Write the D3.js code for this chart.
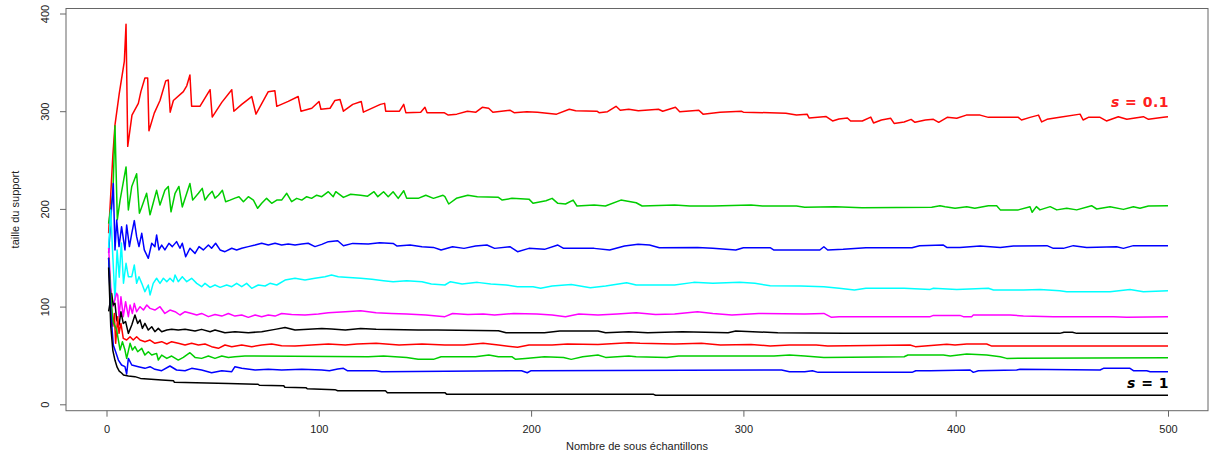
<!DOCTYPE html>
<html>
<head>
<meta charset="utf-8">
<script src="https://cdn.jsdelivr.net/npm/d3@7"></script>
<style>
  body { margin: 0; background: #fff; }
  svg { display: block; }
  .axis text { font-family: "Liberation Sans", Arial, sans-serif; font-size: 11px; fill: #222; }
  .axis line, .axis path { stroke: #666; }
  .titre { font-family: "Liberation Sans", Arial, sans-serif; font-size: 11px; fill: #222; }
  .etiquette { font-family: "DejaVu Sans", Verdana, sans-serif; font-size: 14px; font-weight: bold; letter-spacing: 0.5px; }
</style>
</head>
<body>
<div id="chart"></div>
<script>

// valeurs : [nombre de sous echantillons, taille du support]
var courbe1 = [[1,175],[2,215],[3,255],[4,286],[6,318],[8.4,351],[9.2,389],[10,264],[12,296],[15,308],[16.2,320],[18.1,334],[19.4,334],[20,280],[22.5,298],[25.2,311],[27.9,331],[29.1,332],[30,299],[31.5,311],[36.2,320],[37.8,326],[39.3,337],[40.1,305],[44,305],[48.8,322],[49.8,294],[54.3,309],[59,322],[60,300],[63.7,307],[68.4,315],[70.4,297],[76.2,320],[79.3,321],[80.2,305],[85.6,310],[90.3,315],[91.6,300],[96.7,303],[100.1,310],[101,302],[105.3,303],[107.6,311],[110,312],[111.6,300],[116,307],[120,310],[121,299],[129,307],[131,308],[131.5,300],[138,300],[140,307],[141,298.5],[148,299],[150,304],[151,298.5],[159,298.5],[161,296],[165,297],[170,300],[174,299],[177,304],[180,303],[182,299],[190,301],[192,298.5],[198,299.5],[203,299],[212,297],[218,302],[221,300.5],[231,300],[232,298.5],[236,299.5],[240,305],[242,301],[246,302],[250.5,300.5],[260,302],[262,300],[268,304],[270,299.5],[279,301],[281,297],[289,299],[299,300],[300,299],[320,298],[325,296],[330,297],[331,293],[339,294.5],[342,290],[345,292],[349,293],[350.5,290],[356,290],[360,294],[361.3,288],[365,291],[369.4,292.7],[371,287.5],[375.7,289],[379,291.6],[380.8,288.6],[385.7,291],[389.5,291.7],[392,288.6],[396,293.7],[400.5,292.7],[405,296],[411.5,296],[415.4,293.7],[429.5,293.7],[431,291],[435,293.7],[439,296],[440.5,289],[443,291.7],[449,293.7],[458.6,297],[460,291],[462.5,293.7],[468,293.7],[471,290],[476.6,294.4],[480.6,291.7],[488.4,294.4],[490.8,291.7],[497.8,293.7],[500,294.4]];

var courbe2 = [[1,185],[2,200],[3,215],[4,285],[5.1,189],[6.4,209],[9.2,243],[10.3,199],[11.9,223],[14.2,236],[15.5,195.5],[16.6,202],[18.9,216],[20.5,194],[22,206],[23.6,219],[25.2,204],[27.5,219],[29.1,223],[30.4,197],[32.3,216],[34.1,223],[35.7,202],[37.8,216],[39.3,226],[40.6,209],[43.3,216],[45.1,221],[46.4,209],[48,214],[49.8,218],[51.1,211],[52.7,214],[54.6,219],[56.1,207.4],[58.2,209],[60.5,211],[62.4,212.5],[64.5,207.4],[66.8,212.5],[69.2,209],[71.2,200.6],[73.1,205.7],[75.4,210.8],[77.8,205.7],[80.2,209],[82.5,209],[84.9,216],[87.2,207.4],[89.6,210.8],[92,209],[94.3,212.5],[96.6,210.8],[99,214],[101.4,212.5],[104.5,217.6],[106.8,212.5],[108,217.6],[111.6,211.8],[115,215],[119.7,214],[123,213],[126,217.6],[127.8,212.5],[130.5,217.6],[132.7,212.5],[135,217.6],[137.4,210.8],[140,218.6],[141.4,210.8],[146.8,210.8],[150.4,214],[154,210.8],[158.5,214],[159.4,212.5],[161.2,205],[164.8,210.8],[170.2,214],[174.7,212.5],[184.6,211.8],[186.4,209],[191,210.8],[199,210],[200.9,205.7],[207,208.4],[209.9,210.8],[212.6,205.7],[216.2,205],[219.8,209],[221.6,203],[229.7,204],[235,203],[242.3,209],[249.5,206.3],[252.3,203],[267.6,204],[274.8,203],[285.6,203],[303.6,204],[309,203],[325,203],[328.9,201.6],[343.3,202.2],[355.9,201.2],[388.7,201.6],[392.6,203.3],[395,202.3],[399.7,200.6],[405.2,202.3],[409,200.6],[415.4,203.3],[419.3,203.3],[421,199],[429.5,199],[435,202.3],[436,196.5],[438,202.3],[439.7,199],[444.5,202.3],[447.6,199],[452.3,200.6],[457,199],[464,203.3],[466.4,199.9],[472.7,202.3],[479,199.5],[483.7,202.3],[486.8,200.6],[490.8,203],[500,203.3]];

var courbe3 = [[1,155],[2.1,192],[3.2,226],[4,158],[4.8,188.6],[5.9,161.4],[7.1,181.8],[8.7,158],[9.5,183.5],[10.8,161.4],[11.9,175],[13.1,188],[14.2,171.6],[15.3,161.4],[16.6,175],[17.8,158],[19.7,149.4],[21.3,164.8],[22.8,161.4],[23.6,173.3],[24.7,158],[26,163],[27.5,158],[29.4,164.8],[31,161.4],[33,166.5],[34.6,159.7],[35.7,164.8],[37.3,151],[39.3,159.7],[41.7,154.5],[43.6,161.4],[45.6,158],[48,163],[49.5,159.7],[51.4,164.8],[53.5,158],[55.8,156.2],[59,159.7],[61.3,158],[63.7,159.7],[66.8,161.4],[70,163],[73.1,164.8],[76.2,163],[79.4,164.8],[82.5,163],[85.6,164],[88.8,163],[92,164],[95,164.8],[98.2,161.4],[101.4,163.7],[104.5,166.5],[108.9,167.4],[111.6,162.3],[116,164.7],[123.3,164],[128.7,165.4],[135,164.7],[136.9,162],[143,163],[148.6,161.3],[154,160.6],[157.6,157.9],[163,161.3],[168.4,159.6],[173.8,162],[179.2,163],[182.8,159.6],[190,161.3],[193.6,156.2],[199,159.6],[206.3,158.6],[212.6,163],[215.3,159.6],[229.7,159.6],[237,157.9],[244,162],[250.4,163.7],[255.8,163],[260.4,160.3],[278.4,160.6],[285.6,159.6],[296.4,157.9],[300,160.3],[312.6,160.3],[314.4,157.9],[336,157.9],[337.9,161.3],[339.7,157.9],[347,158.6],[357.7,160.3],[379.4,160.3],[383,162.3],[394.2,163],[395.8,160.6],[402,160.6],[411.5,162],[421,160.6],[427.2,162],[443,162.4],[446,159.6],[450.7,159.6],[455.4,162.4],[461.7,160.6],[475.8,161.3],[479,159.6],[483.7,162.4],[500,162.4]];

var courbe4 = [[1,160],[2,199],[3,150],[4,107],[5,158],[6,130],[7,165],[8,124],[9.2,144.3],[10.3,130.6],[11.9,130.6],[13.1,142.6],[14.2,123.8],[15.3,130.6],[16.6,123.8],[18.1,115.3],[19.7,122.1],[20.5,111.9],[22,123.8],[23.6,129],[25.2,123.8],[26.8,129],[28.4,125.5],[29.9,129],[31.5,125.5],[32.3,132.3],[33.8,125.5],[35.7,130.6],[37.8,125.5],[40.1,129],[42.5,123.8],[44.8,120.4],[46.4,123.8],[48.8,119.7],[51.1,122.1],[53.5,119.7],[56.6,122.1],[59,120.4],[61.3,123.8],[63.7,120.4],[66,123.8],[68.4,118.7],[71.5,122.1],[74.7,121.1],[77,123.8],[80.2,122.1],[84.1,127.2],[88.8,129],[93.5,127.2],[98.2,129],[102.9,130.6],[106,132.3],[109.2,130.6],[112.5,130],[119.7,128.9],[125,127.9],[130.5,126.5],[135,125.5],[141.4,126.5],[148.6,125.5],[153,123.1],[159.4,122.1],[162,125.5],[167.5,123.1],[174.7,124.8],[181,123.1],[188.2,122.1],[193.6,120.4],[200.9,120.4],[204.5,118.7],[209.9,121],[218.9,122.7],[227.9,119.3],[235.1,121],[245,124.5],[249.5,122.1],[267.6,122.1],[276.6,124.8],[285.6,123.8],[298.2,124.8],[305.4,123.8],[312.6,121.4],[327,121],[337.9,120.4],[345.1,118.7],[352.3,117],[357.7,118.7],[375.7,118.7],[388,117.6],[389.5,118.7],[400.5,117.6],[415.4,118.7],[417.8,117],[431.9,117],[439.7,117.6],[449,116.3],[452.3,115.3],[472.7,115.3],[482.1,117.6],[488.4,115.3],[500,116.3]];

var courbe5 = [[1,160],[2,120],[3,100],[4.8,113.6],[5.3,111.8],[5.9,89.7],[6.8,110.1],[7.9,89.7],[9,105],[10.3,89.7],[11.1,101.6],[12.2,93],[13.1,103.3],[14.2,94.8],[15.8,99.9],[17.4,96.5],[19,101.6],[20.5,98.2],[22.8,96.5],[25.2,99.9],[27.5,93],[29.9,96.5],[32.3,94.8],[34.6,91.4],[37,94.8],[40.1,93],[42.5,91.4],[44.8,93],[48,89.7],[51.1,92],[54.3,90.3],[57.4,93],[60.5,90.3],[63.7,91.4],[66.8,89],[70,91.4],[73.1,89.7],[76.2,91.4],[79.4,90.3],[82.5,93],[87.2,92],[93.5,91.4],[99.8,92.4],[104.5,93.8],[112.5,94.8],[119.7,95.8],[127,93.7],[134.2,93],[141.4,92.4],[150.4,91.4],[159.4,89.7],[163,93],[170.2,92],[177.4,92.4],[182.8,91.4],[191.8,93],[202.7,92.4],[209.9,91.4],[216.2,89.7],[222.5,92.4],[231.5,91.4],[240.5,92.4],[249.5,93.7],[258.6,92],[267.6,92.4],[278.4,94.8],[285.6,93],[294.6,91.4],[307.2,93],[328.9,92.4],[337.9,93],[341.5,89],[345.1,89.7],[388,89.7],[389.5,91],[402,91],[403.6,89.7],[407.5,89.7],[408.3,91.4],[425.6,91.4],[431.9,90.4],[446,89.7],[474.3,89.7],[480.6,89],[500,89.7]];

var courbe6 = [[1,95],[2.4,113.5],[3.2,101.6],[4,103.3],[4.8,86.3],[5.9,81.1],[6.8,94.8],[7.9,82.8],[9,84.6],[10.3,72.6],[11.9,81.1],[13.4,91.4],[14.7,82.8],[15.8,86.3],[16.9,77.7],[18.1,82.8],[19.7,76],[21.3,79.4],[22.8,74.3],[24.4,77.7],[26,74.3],[28.4,76],[30.7,76.7],[33.8,76],[37,76.7],[41.7,75],[44.8,76.7],[48.8,74.3],[51.1,76],[55.8,73.3],[60.5,74.3],[66.8,73.3],[73.1,74.3],[79.4,76.7],[84.1,78.7],[88.8,76],[95,76.7],[101.4,77.7],[106,77],[112.5,76],[119.7,77.7],[127,76.7],[146.8,76],[155.8,76],[184.6,75.3],[188.2,73.3],[206.3,73.3],[213.5,75],[231.5,75],[235.1,73.3],[246,74.3],[254.9,73.3],[271.2,74.3],[292.8,73.3],[296.4,75],[316.2,73.3],[347,72.6],[449,72.6],[451,73.8],[455,73.8],[457,72.6],[500,72.6]];

var courbe7 = [[1,150],[2,110],[3,80],[3.7,93],[4.3,62.4],[5.3,89.7],[5.9,72.6],[6.8,82.8],[7.9,67.5],[9.5,65.8],[11.1,69.2],[12.6,65.8],[14.2,69.2],[15.8,65.8],[18.1,64.1],[20.5,65.8],[22.8,62.4],[26,64.1],[28.4,61.7],[30.7,64.1],[33.8,62.4],[37,60.7],[40.1,62.4],[43.3,60.7],[46.4,61.7],[49.5,59],[52.7,57.3],[55.8,60.7],[59,59],[63.7,60.7],[68.4,59],[73.1,60.7],[77.8,61.7],[82.5,60],[88.8,59.6],[96.6,60.7],[104.5,61.7],[112.5,60.7],[118,61.7],[127,62.4],[137.8,60.7],[148.6,61.7],[159.4,60.7],[168.4,60.7],[177.4,62.4],[184.6,60.7],[193.6,58.3],[199,60.7],[209.9,60.7],[217.1,61.7],[231.5,61.3],[245.9,63],[251.3,62.4],[267.6,61.7],[280.2,62.4],[289.2,60.7],[303.6,61.3],[312.6,59.6],[321.7,60.7],[334.3,60.7],[339.7,59.6],[378.5,60.7],[381,59],[395.8,61.4],[399.7,60.7],[405.2,61.7],[414.6,61.7],[417,59.6],[500,59.6]];

var courbe8 = [[1,150],[2,110],[3,85],[4.8,76],[5.6,65.8],[6.4,55.5],[7.5,64.1],[8.7,55.5],[9.5,47],[11.1,62.4],[12.2,55.5],[13.4,59],[14.7,53.8],[16.6,57.3],[18.1,50.4],[19.7,53.8],[21.3,50.4],[23.6,52.1],[24.4,45.3],[26,50.4],[28.4,47],[30.7,49.4],[33.8,45.3],[36.2,48],[39.3,52.8],[41.7,48],[44.8,47],[48,49.4],[51.1,47],[54.3,49.4],[57.4,48],[60.5,48.7],[65.2,49.4],[123.3,48.7],[130.5,49.4],[141.4,48],[146.8,46],[154,46],[157.6,48.7],[173.8,48.7],[180.1,50.4],[184.6,48.7],[190.9,48.7],[192.7,46],[197.3,47],[206.3,48.7],[215.3,48],[218.9,46],[224.3,48.7],[231.5,50.4],[235.1,48],[246,49.4],[249.5,48.7],[264,48],[269.4,49.4],[314.4,49.4],[321.7,50.4],[328.9,49.4],[337.9,48],[375.7,48.7],[377.5,50.4],[394.2,50.4],[397.4,49.4],[405.2,51.5],[414.6,50.4],[421,48.7],[424,47],[500,47.7]];

var courbe9 = [[1,150],[2,95],[3.2,60.7],[4.3,53.8],[5.6,45.3],[7.1,40.2],[8.7,38.5],[9.5,31],[10.3,47],[11.9,40.2],[15,38.5],[18.1,36.8],[20.5,38.5],[22.8,35.8],[26,34.4],[29.9,39.2],[33,35.1],[37,34.4],[40.1,36.8],[44.8,35.1],[49.5,32.3],[54.3,34.4],[59,33.4],[60.5,38.5],[63.7,36.8],[70,35.1],[76.2,35.8],[82.5,35.1],[92,35.8],[101.4,35.1],[105,34.4],[108.9,36.1],[111.6,36.8],[113.4,34.4],[127,34.4],[129.6,33.4],[195.5,34.4],[198.2,32.3],[200,34.4],[318,35.1],[321.7,33.4],[328.9,33.4],[332.5,34.4],[335.2,32.7],[379.4,32.7],[381.2,34.4],[388,34.4],[406.8,35.1],[408.3,32.7],[410.7,34.4],[428.7,35.1],[430.3,35.8],[468,35.1],[469.6,36.8],[482.1,36.8],[483.7,34.4],[490,34.4],[491.6,33.4],[500,33.4]];

var courbe10 = [[1,140],[2,80],[3,55],[4,45],[5,38],[6,34],[7.1,32],[8,30],[10.3,29],[13.4,28.3],[16,26.5],[26,24.8],[31.6,24],[32,22.5],[57.4,21.4],[71.4,20.5],[72,19.5],[83.5,19],[84,17.5],[93.9,17],[94.5,16],[107.6,15],[108.9,13.9],[131.4,13.9],[132.3,11.9],[159.4,11.9],[160.3,10.2],[257.7,10.2],[258.6,9.3],[500,9.3]];

var couleurs = ["#ff0000", "#00cd00", "#0000ff", "#00ffff", "#ff00ff", "#000000", "#ff0000", "#00cd00", "#0000ff", "#000000"];
var ticksX = [0, 100, 200, 300, 400, 500];
var ticksY = [0, 100, 200, 300, 400];

var courbes = [courbe1, courbe2, courbe3, courbe4, courbe5, courbe6, courbe7, courbe8, courbe9, courbe10];

var width = 1210
  , height = 455
  , box = { left: 66, right: 1208, top: 8.5, bottom: 410.7 };

var svg = d3.select("#chart").append("svg")
  .attr("width", width)
  .attr("height", height);

var x = d3.scaleLinear().domain([0, 500]).range([106.5, 1168])
  , y = d3.scaleLinear().domain([0, 400]).range([404.3, 13.5]);

var line = d3.line()
  .x(function (d) { return x(d[0]); })
  .y(function (d) { return y(d[1]); });

// les courbes
svg.append("g").selectAll("path")
  .data(courbes)
  .enter().append("path")
    .attr("d", line)
    .attr("fill", "none")
    .attr("stroke", function (d, i) { return couleurs[i]; })
    .attr("stroke-width", 1.5)
    .attr("stroke-linejoin", "round");

// cadre
svg.append("rect")
  .attr("x", box.left)
  .attr("y", box.top)
  .attr("width", box.right - box.left)
  .attr("height", box.bottom - box.top)
  .attr("fill", "none")
  .attr("stroke", "#666")
  .attr("stroke-width", 1);

var axeX = svg.append("g")
  .attr("class", "axis")
  .attr("transform", "translate(0," + box.bottom + ")")
  .call(d3.axisBottom(x).tickValues(ticksX).tickSize(6).tickPadding(9).tickFormat(d3.format("d")));
axeX.select(".domain").remove();

var axeY = svg.append("g")
  .attr("class", "axis")
  .attr("transform", "translate(" + box.left + ",0)")
  .call(d3.axisLeft(y).tickValues(ticksY).tickSize(6).tickFormat(d3.format("d")));
axeY.select(".domain").remove();
axeY.selectAll("text")
  .attr("x", 0)
  .attr("dy", "0.35em")
  .attr("text-anchor", "middle")
  .attr("transform", "translate(-21,0) rotate(-90)");

svg.append("text")
  .attr("class", "titre")
  .attr("x", (box.left + box.right) / 2)
  .attr("y", 450)
  .attr("text-anchor", "middle")
  .text("Nombre de sous échantillons");

svg.append("text")
  .attr("class", "titre")
  .attr("text-anchor", "middle")
  .attr("transform", "translate(19," + ((box.top + box.bottom) / 2) + ") rotate(-90)")
  .text("taille du support");

// etiquettes s
function etiquette (valeur, yPos, couleur) {
  var t = svg.append("text")
    .attr("class", "etiquette")
    .attr("x", x(500) + 1)
    .attr("y", yPos)
    .attr("text-anchor", "end")
    .attr("fill", couleur);
  t.append("tspan").attr("font-style", "italic").text("s");
  t.append("tspan").text(" = " + valeur);
}

etiquette("0.1", 106.5, "#ff2020");
etiquette("1", 388, "#000");

</script>
</body>
</html>
